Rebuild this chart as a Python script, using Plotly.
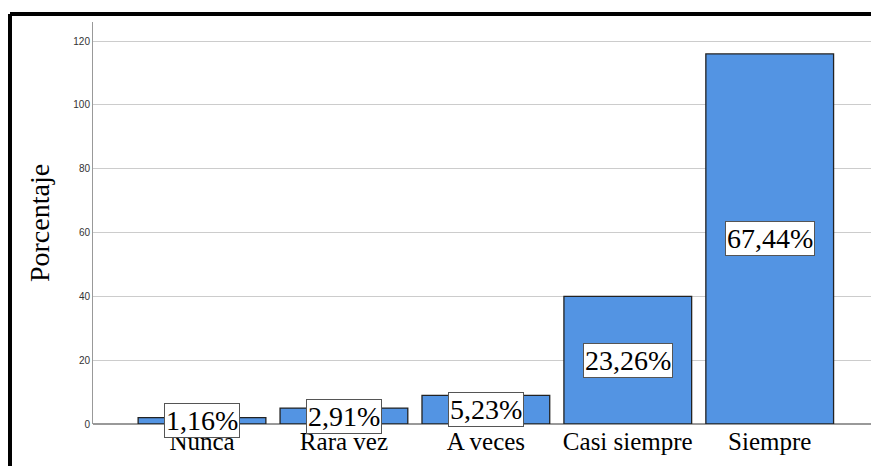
import plotly.graph_objects as go

categories = ['Nunca', 'Rara vez', 'A veces', 'Casi siempre', 'Siempre']
counts = [2, 5, 9, 40, 116]
y_ticks = [0, 20, 40, 60, 80, 100, 120]

total = sum(counts)
pct_labels = [f"{c / total * 100:.2f}%".replace('.', ',') for c in counts]

SERIF = 'Times New Roman, Liberation Serif, DejaVu Serif, serif'

fig = go.Figure(go.Bar(
    x=categories, y=counts,
    marker=dict(color='#5394E3', line=dict(color='#222222', width=1.3)),
    hoverinfo='skip'
))

# percentage boxes centred half way up each bar
for cat, c, lab in zip(categories, counts, pct_labels):
    fig.add_annotation(
        x=cat, y=c / 2, text=lab, showarrow=False,
        font=dict(family=SERIF, size=28, color='#000000'),
        bgcolor='white', bordercolor='#555555', borderwidth=1, borderpad=1
    )

# outer black frame (cut off on the right and bottom like the source)
fig.add_shape(type='line', xref='paper', yref='paper',
              x0=-0.1056, x1=1.03, y0=1.02, y1=1.02,
              line=dict(color='black', width=4))
fig.add_shape(type='line', xref='paper', yref='paper',
              x0=-0.1056, x1=-0.1056, y0=1.02, y1=-0.2,
              line=dict(color='black', width=4))

fig.update_layout(
    width=879, height=466,
    margin=dict(l=85, r=8, t=14, b=50),
    paper_bgcolor='white', plot_bgcolor='white',
    bargap=0.1, showlegend=False,
    xaxis=dict(
        showline=False, showgrid=False, ticks='',
        tickfont=dict(family=SERIF, size=25, color='#000000'),
        range=[-0.768, 4.77]
    ),
    yaxis=dict(
        range=[0, 126], tickvals=y_ticks,
        showgrid=True, gridcolor='#CCCCCC', gridwidth=1,
        zeroline=True, zerolinecolor='#999999', zerolinewidth=1.5,
        showline=True, linecolor='#999999', linewidth=1,
        ticks='', ticklen=0,
        tickfont=dict(family='Liberation Sans', size=10, color='#333333'),
        title=dict(text='Porcentaje', standoff=15,
                   font=dict(family=SERIF, size=28, color='#000000')),
        automargin=False
    )
)

fig.write_html("out.html")
